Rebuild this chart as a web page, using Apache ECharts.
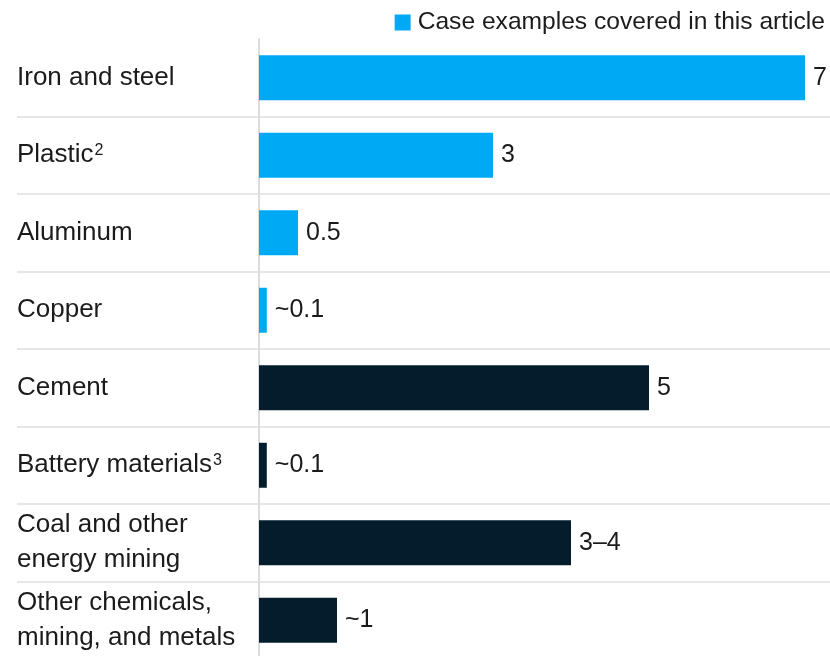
<!DOCTYPE html>
<html>
<head>
<meta charset="utf-8">
<script src="https://cdn.jsdelivr.net/npm/echarts@6/dist/echarts.min.js"></script>
<style>
  html, body { margin: 0; padding: 0; background: #fff; }
  #chart { width: 830px; height: 656px; }
</style>
</head>
<body>
<div id="chart"></div>
<script>
// Sectors, top to bottom
const categories = [
  'Iron and steel',
  'Plastic',
  'Aluminum',
  'Copper',
  'Cement',
  'Battery materials',
  'Coal and other\nenergy mining',
  'Other chemicals,\nmining, and metals'
];
// Footnote markers shown after some sector names
const footnotes = ['', '2', '', '', '', '3', '', ''];
// Bar lengths and the text printed beside each bar
const values = [7, 3, 0.5, 0.1, 5, 0.1, 4, 1];
const valueLabels = ['7', '3', '0.5', '~0.1', '5', '~0.1', '3\u20134', '~1'];
// Sectors that are covered by case examples
const covered = [true, true, true, true, false, false, false, false];
const coveredName = 'Case examples covered in this article';

const BLUE = '#00A9F4';
const NAVY = '#051C2C';
const TEXT = '#1b1b1b';
const FONT = 'Liberation Sans, Arial, sans-serif';
const FS = 26;

const coveredData = values.map((v, i) => covered[i] ? v : '-');
const otherData = values.map((v, i) => covered[i] ? '-' : v);

const labelCfg = {
  show: true,
  position: 'right',
  distance: 8,
  color: TEXT,
  fontFamily: FONT,
  fontSize: 25,
  formatter: p => valueLabels[p.dataIndex]
};

const chart = echarts.init(document.getElementById('chart'), null, { renderer: 'canvas' });
chart.setOption({
  animation: false,
  backgroundColor: '#fff',
  legend: {
    data: [coveredName],
    right: 0,
    top: 5,
    icon: 'rect',
    itemWidth: 16,
    itemHeight: 16,
    itemGap: 6,
    textStyle: { color: TEXT, fontFamily: FONT, fontSize: 24.6, padding: [0, 0, 0, 2] }
  },
  grid: [
    // full-width band grid used only for the row separators
    { left: 17, right: 0, top: 39, height: 620, outerBoundsMode: 'none' },
    // bar plotting area
    { left: 259, right: 25, top: 39, height: 620, outerBoundsMode: 'none' }
  ],
  xAxis: [
    { gridIndex: 0, type: 'value', min: 0, max: 1, show: false },
    { gridIndex: 1, type: 'value', min: 0, max: 7, show: false }
  ],
  yAxis: [
    {
      gridIndex: 0,
      type: 'category',
      data: categories,
      inverse: true,
      axisLine: { show: false },
      axisTick: { show: false },
      axisLabel: { show: false },
      splitLine: {
        show: true,
        interval: (idx) => idx > 0,
        lineStyle: { color: '#e6e6e6', width: 2 }
      }
    },
    {
      gridIndex: 1,
      type: 'category',
      data: categories,
      inverse: true,
      axisLine: { show: true, lineStyle: { color: '#dcdcdc', width: 2 } },
      axisTick: { show: false },
      splitLine: { show: false },
      axisLabel: {
        margin: 242,
        align: 'left',
        color: TEXT,
        fontFamily: FONT,
        fontSize: FS,
        lineHeight: 35,
        formatter: (name, i) => footnotes[i]
          ? '{base|' + name + '}{sup|' + footnotes[i] + '}'
          : name,
        rich: {
          base: { fontFamily: FONT, fontSize: FS, color: TEXT, lineHeight: 35 },
          sup: {
            fontFamily: FONT, fontSize: 16, color: TEXT,
            verticalAlign: 'top', lineHeight: 18, padding: [5, 0, 0, 1]
          }
        }
      }
    }
  ],
  series: [
    {
      name: coveredName,
      type: 'bar',
      xAxisIndex: 1,
      yAxisIndex: 1,
      stack: 'all',
      barWidth: 45,
      data: coveredData,
      itemStyle: { color: BLUE },
      label: labelCfg
    },
    {
      name: 'Other sectors',
      type: 'bar',
      xAxisIndex: 1,
      yAxisIndex: 1,
      stack: 'all',
      barWidth: 45,
      data: otherData,
      itemStyle: { color: NAVY },
      label: labelCfg
    }
  ]
});
</script>
</body>
</html>
